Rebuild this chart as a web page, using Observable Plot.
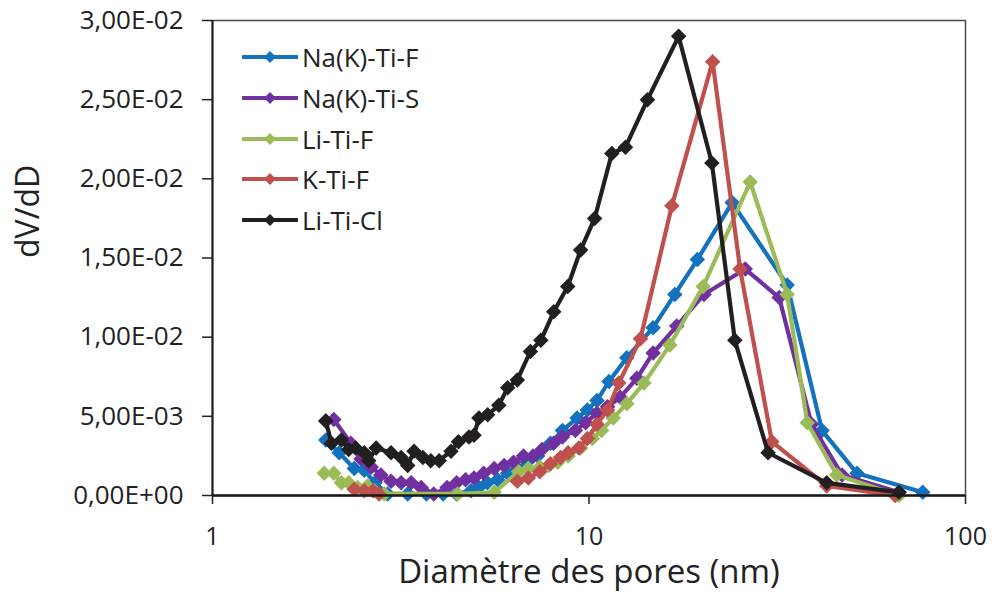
<!DOCTYPE html>
<html>
<head>
<meta charset="utf-8">
<script src="https://cdn.jsdelivr.net/npm/d3@7"></script>
<script src="https://cdn.jsdelivr.net/npm/@observablehq/plot@0.6"></script>
<style>
  html, body { margin: 0; padding: 0; background: #fff; }
  #wrap { position: relative; width: 992px; height: 594px; font-family: "Open Sans", sans-serif; }
  #legend { position: absolute; left: 242px; top: 37px; }
  .row { display: flex; align-items: center; height: 40.7px; font-size: 26px; color: #222; }
  .row svg { margin-right: 4px; }
</style>
</head>
<body>
<div id="wrap"><div id="legend"></div></div>
<script>
const seriesNames = ["Na(K)-Ti-F", "Na(K)-Ti-S", "Li-Ti-F", "K-Ti-F", "Li-Ti-Cl"];
const seriesColors = ["#1371BD", "#7030A0", "#9BBB59", "#C0504D", "#231F20"];

const xNaKTiF = [2.0, 2.17, 2.38, 2.53, 2.7, 2.92, 3.3, 3.7, 4.1, 4.45, 4.86, 5.1, 5.37, 5.72, 6.08, 6.45, 6.85, 7.3, 7.9, 8.5, 9.3, 9.9, 10.5, 11.3, 12.6, 14.8, 16.9, 19.4, 24.0, 33.6, 41.6, 51.5, 77];
const yNaKTiF = [0.0035, 0.0027, 0.0017, 0.0016, 0.0008, 0.0001, 0.0001, 0.0001, 0.0001, 0.0001, 0.0003, 0.0005, 0.0008, 0.0010, 0.0014, 0.0017, 0.0021, 0.0025, 0.0033, 0.0041, 0.0049, 0.0054, 0.0060, 0.0072, 0.0087, 0.0106, 0.0127, 0.0149, 0.0185, 0.0133, 0.0041, 0.0014, 0.0002];

const xNaKTiS = [2.0, 2.1, 2.33, 2.48, 2.64, 2.8, 2.98, 3.17, 3.37, 3.58, 3.87, 4.2, 4.45, 4.7, 4.95, 5.25, 5.6, 5.95, 6.3, 6.7, 7.1, 7.5, 8.05, 8.5, 9.2, 9.8, 10.5, 11.2, 12.1, 13.4, 14.8, 17.1, 20.2, 26.0, 32.0, 39.0, 47.0, 66.6];
const yNaKTiS = [0.0047, 0.0048, 0.0033, 0.0023, 0.0018, 0.0013, 0.0009, 0.0008, 0.0008, 0.0005, 0.0001, 0.0005, 0.0008, 0.0010, 0.0011, 0.0014, 0.0017, 0.0019, 0.0021, 0.0025, 0.0025, 0.0029, 0.0033, 0.0037, 0.0041, 0.0046, 0.0052, 0.0056, 0.0062, 0.0074, 0.0090, 0.0107, 0.0127, 0.0143, 0.0125, 0.0045, 0.0013, 0.0002];

const xLiTiF = [1.98, 2.1, 2.2, 2.3, 2.43, 2.58, 2.69, 2.86, 4.48, 5.6, 6.5, 6.9, 7.4, 7.8, 8.26, 8.8, 9.5, 10.2, 10.8, 11.6, 12.6, 14.0, 16.4, 20.1, 26.8, 33.6, 38.0, 45.5, 66.6];
const yLiTiF = [0.0014, 0.0014, 0.0008, 0.0008, 0.0005, 0.0006, 0.0003, 0.0001, 0.0001, 0.0002, 0.0015, 0.0017, 0.0018, 0.0019, 0.0021, 0.0025, 0.0030, 0.0036, 0.0041, 0.0049, 0.0058, 0.0071, 0.0095, 0.0132, 0.0198, 0.0127, 0.0046, 0.0013, 0.0000];

// null marks the gap in the K-Ti-F series
const xKTiF = [2.38, 2.53, 2.67, 2.77, 4.5, 6.45, 6.9, 7.4, 7.9, 8.4, 8.8, 9.4, 9.9, 10.5, 11.2, 12.0, 13.7, 16.6, 21.3, 25.2, 30.6, 42.8, 65.0];
const yKTiF = [0.0004, 0.0003, 0.0003, 0.0001, null, 0.0009, 0.0011, 0.0015, 0.0020, 0.0024, 0.0027, 0.0030, 0.0036, 0.0045, 0.0054, 0.0071, 0.0099, 0.0183, 0.0274, 0.0143, 0.0034, 0.0006, 0.0000];

const xLiTiCl = [2.0, 2.07, 2.2, 2.3, 2.4, 2.53, 2.6, 2.72, 2.98, 3.17, 3.3, 3.43, 3.62, 3.8, 4.0, 4.3, 4.5, 4.8, 4.95, 5.1, 5.38, 5.76, 6.08, 6.45, 6.99, 7.45, 8.06, 8.78, 9.5, 10.35, 11.5, 12.5, 14.3, 17.3, 21.2, 24.4, 29.9, 42.8, 66.6];
const yLiTiCl = [0.0047, 0.0033, 0.0035, 0.0029, 0.0030, 0.0027, 0.0022, 0.0030, 0.0027, 0.0024, 0.0019, 0.0028, 0.0024, 0.0022, 0.0022, 0.0028, 0.0034, 0.0037, 0.0038, 0.0049, 0.0051, 0.0057, 0.0068, 0.0073, 0.0091, 0.0098, 0.0116, 0.0132, 0.0155, 0.0175, 0.0216, 0.0220, 0.0250, 0.0290, 0.0210, 0.0098, 0.0027, 0.0008, 0.0002];

const xTicks = [1, 10, 100];
const yTicks = [0, 0.005, 0.01, 0.015, 0.02, 0.025, 0.03];
const xTitle = "Diamètre des pores (nm)";
const yTitle = "dV/dD";

const xs = [xNaKTiF, xNaKTiS, xLiTiF, xKTiF, xLiTiCl];
const ys = [yNaKTiF, yNaKTiS, yLiTiF, yKTiF, yLiTiCl];

function sci(v) {
  if (v === 0) return "0,00E+00";
  const e = Math.floor(Math.log10(v) + 1e-9);
  const m = v / Math.pow(10, e);
  return m.toFixed(2).replace(".", ",") + "E" + (e < 0 ? "-" : "+") + String(Math.abs(e)).padStart(2, "0");
}

const marks = [
  Plot.frame({stroke: "#4a4a4a", strokeWidth: 1.5}),
  Plot.axisY({ticks: yTicks, tickFormat: sci, tickSize: 10, tickPadding: 19, fontSize: 26, label: null, stroke: "#222", strokeWidth: 1.5}),
  Plot.axisX({ticks: xTicks, tickFormat: d => String(d), tickSize: 9, tickPadding: 23, fontSize: 25, label: null, stroke: "#222", strokeWidth: 1.5})
];
seriesNames.forEach((name, i) => {
  const rows = xs[i].map((x, j) => ({x, y: ys[i][j]}));
  marks.push(Plot.line(rows, {x: "x", y: "y", stroke: seriesColors[i], strokeWidth: 4.2, strokeLinejoin: "round"}));
  marks.push(Plot.dot(rows.filter(d => d.y != null), {x: "x", y: "y", symbol: "diamond2", r: 7, fill: seriesColors[i], stroke: "none"}));
});
marks.push(
  Plot.ruleY([0], {stroke: "#1a1a1a", strokeWidth: 2.5}),
  Plot.ruleX([1], {stroke: "#1a1a1a", strokeWidth: 2}),
  Plot.text([xTitle], {frameAnchor: "bottom", dy: 87, fontSize: 33, fill: "#222"}),
  Plot.text([yTitle], {frameAnchor: "left", dx: -184, rotate: -90, fontSize: 32, fill: "#222"})
);

const chart = Plot.plot({
  width: 992,
  height: 594,
  marginLeft: 212,
  marginRight: 27,
  marginTop: 20,
  marginBottom: 99,
  style: {fontFamily: "Open Sans", fontSize: "26px", color: "#222", background: "#fff"},
  x: {type: "log", domain: [1, 100]},
  y: {domain: [0, 0.03]},
  marks
});
const wrap = document.getElementById("wrap");
wrap.insertBefore(chart, wrap.firstChild);

const legend = document.getElementById("legend");
seriesNames.forEach((name, i) => {
  const row = document.createElement("div");
  row.className = "row";
  row.innerHTML = `<svg width="56" height="16"><line x1="1" y1="8" x2="55" y2="8" stroke="${seriesColors[i]}" stroke-width="4" stroke-linecap="round"/><path d="M28,2 L34,8 L28,14 L22,8 Z" fill="${seriesColors[i]}"/></svg><span>${name}</span>`;
  legend.appendChild(row);
});
</script>
</body>
</html>
